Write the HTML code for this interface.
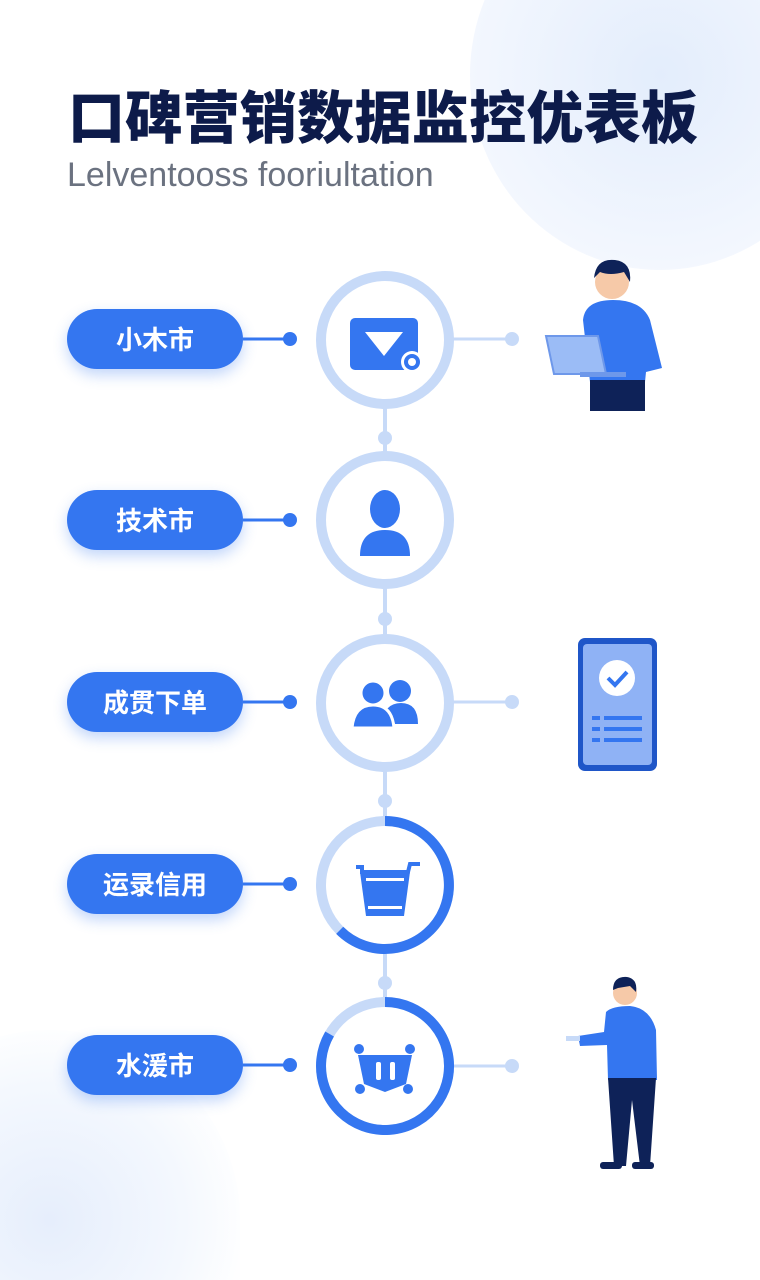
<!DOCTYPE html>
<html style="overflow:hidden;width:760px;height:1280px"><head><meta charset="utf-8"><style>
body{margin:0;width:760px;height:1280px;overflow:hidden;background:#fff;font-family:"Liberation Sans","Noto Sans CJK SC",sans-serif;position:relative}
.bg1{position:absolute;right:-90px;top:-120px;width:380px;height:390px;border-radius:50%;background:radial-gradient(circle,#e3edfc,#f3f7fe 70%,#fff)}
.bg2{position:absolute;left:-140px;top:1030px;width:380px;height:250px;border-radius:190px 190px 0 0;background:radial-gradient(circle at 50% 76%,#e6eefc,#f4f8fe 50%,#fff 75%)}
h1{position:absolute;left:68px;top:73px;margin:0;font-size:57px;font-weight:900;color:#0d1b4a;font-family:"Noto Sans CJK SC",sans-serif;white-space:nowrap;letter-spacing:0.3px}
.sub{position:absolute;left:67px;top:156px;font-size:34px;color:#6b7280;white-space:nowrap}
.pill{position:absolute;left:67px;width:176px;height:60px;border-radius:30px;background:#3476f0;color:#fff;font-size:26px;font-weight:bold;text-align:center;line-height:60px;box-shadow:0 6px 14px rgba(52,118,240,.3);font-family:"Noto Sans CJK SC",sans-serif}
</style></head><body>
<div class="bg1"></div><div class="bg2"></div>
<h1>口碑营销数据监控优表板</h1>
<div class="sub">Lelventooss fooriultation</div>
<div class="pill" style="top:309px">小木市</div>
<div class="pill" style="top:490px">技术市</div>
<div class="pill" style="top:672px">成贯下单</div>
<div class="pill" style="top:854px">运录信用</div>
<div class="pill" style="top:1035px">水湲市</div>
<svg width="760" height="1280" style="position:absolute;left:0;top:0">
<g stroke="#c7daf8" stroke-width="4">
<line x1="385" y1="400" x2="385" y2="1010"/>
</g>
<g fill="#c7daf8"><circle cx="385" cy="438" r="7"/><circle cx="385" cy="619" r="7"/><circle cx="385" cy="801" r="7"/><circle cx="385" cy="983" r="7"/></g>
<g stroke="#3476f0" stroke-width="3"><line x1="243" y1="339" x2="290" y2="339"/><line x1="243" y1="520" x2="290" y2="520"/><line x1="243" y1="702" x2="290" y2="702"/><line x1="243" y1="884" x2="290" y2="884"/><line x1="243" y1="1065" x2="290" y2="1065"/></g>
<g fill="#3476f0"><circle cx="290" cy="339" r="7"/><circle cx="290" cy="520" r="7"/><circle cx="290" cy="702" r="7"/><circle cx="290" cy="884" r="7"/><circle cx="290" cy="1065" r="7"/></g>
<g stroke="#c7daf8" stroke-width="3"><line x1="452" y1="339" x2="512" y2="339"/><line x1="452" y1="702" x2="512" y2="702"/><line x1="452" y1="1066" x2="512" y2="1066"/></g>
<g fill="#c7daf8"><circle cx="512" cy="339" r="7"/><circle cx="512" cy="702" r="7"/><circle cx="512" cy="1066" r="7"/></g>
<g fill="#fff" stroke="#c7daf8" stroke-width="10">
<circle cx="385" cy="340" r="64"/><circle cx="385" cy="520" r="64"/><circle cx="385" cy="703" r="64"/><circle cx="385" cy="885" r="64"/><circle cx="385" cy="1066" r="64"/>
</g>
<g fill="none" stroke="#3476f0" stroke-width="10">
<path d="M385 821 A64 64 0 1 1 339.7 930.3"/>
<path d="M385 1002 A64 64 0 1 1 329.6 1034"/>
</g>
<rect x="350" y="318" width="68" height="52" rx="5" fill="#3476f0"/>
<path d="M365 332 L403 332 L384 356Z" fill="#fff"/>
<circle cx="412" cy="362" r="11" fill="#fff"/><circle cx="412" cy="362" r="8" fill="#3476f0"/><circle cx="412" cy="362" r="4" fill="#fff"/>
<ellipse cx="385" cy="509" rx="15" ry="19" fill="#3476f0"/>
<path d="M360 556 Q360 530 385 530 Q410 530 410 556Z" fill="#3476f0"/>
<circle cx="400" cy="691" r="11" fill="#3476f0"/><path d="M382 724 Q384 703 401 703 Q418 703 418 724Z" fill="#3476f0"/>
<circle cx="373" cy="693" r="12" fill="#3476f0" stroke="#fff" stroke-width="3"/><path d="M352 728 Q354 705 373 705 Q392 705 394 728Z" fill="#3476f0" stroke="#fff" stroke-width="3"/>
<path d="M356 867 L362 867 L362 872 L408 872 L410 864 L420 864" fill="none" stroke="#3476f0" stroke-width="4"/>
<path d="M360 872 L410 872 L404 916 L366 916Z" fill="#3476f0"/>
<rect x="366" y="878" width="38" height="3" fill="#fff"/><rect x="368" y="906" width="34" height="3" fill="#fff"/>
<path d="M358 1055 L412 1055 L406 1084 L385 1092 L364 1084Z" fill="#3476f0"/>
<rect x="376" y="1062" width="5" height="18" rx="2" fill="#fff"/><rect x="390" y="1062" width="5" height="18" rx="2" fill="#fff"/>
<circle cx="359" cy="1049" r="5" fill="#3476f0"/><circle cx="410" cy="1049" r="5" fill="#3476f0"/><circle cx="360" cy="1089" r="5" fill="#3476f0"/><circle cx="408" cy="1089" r="5" fill="#3476f0"/>
<circle cx="612" cy="282" r="17" fill="#f6c9a8"/>
<path d="M594 278 Q596 258 615 260 Q632 262 630 282 L624 272 Q610 276 600 272Z" fill="#0e2258"/>
<path d="M583 320 Q585 300 613 300 Q642 300 650 320 L662 368 L646 372 L645 382 L590 382Z" fill="#3476f0"/>
<rect x="590" y="380" width="55" height="31" fill="#0e2258"/>
<path d="M546 336 L598 336 L606 374 L554 374Z" fill="#9bbcf6" stroke="#6e98ea" stroke-width="2"/>
<rect x="580" y="372" width="46" height="5" fill="#6e98ea"/>
<rect x="578" y="638" width="79" height="133" rx="7" fill="#1f56c8"/>
<rect x="583" y="644" width="69" height="121" rx="4" fill="#8fb2f5"/>
<circle cx="617" cy="678" r="18" fill="#fff"/><path d="M608 678 L615 685 L627 672" fill="none" stroke="#3476f0" stroke-width="4"/>
<g fill="#3476f0"><rect x="592" y="716" width="8" height="4"/><rect x="604" y="716" width="38" height="4"/><rect x="592" y="727" width="8" height="4"/><rect x="604" y="727" width="38" height="4"/><rect x="592" y="738" width="8" height="4"/><rect x="604" y="738" width="38" height="4"/></g>
<circle cx="625" cy="993" r="12" fill="#f6c9a8"/>
<path d="M613 990 Q613 976 627 977 Q638 979 636 992 L630 986 L618 988Z" fill="#0e2258"/>
<path d="M606 1012 Q612 1006 630 1006 Q650 1008 656 1030 L657 1080 L608 1080 L607 1045 L580 1046 L578 1036 L604 1032Z" fill="#3476f0"/>
<path d="M608 1078 L656 1078 L650 1166 L640 1166 L632 1100 L626 1166 L614 1166Z" fill="#0e2258"/>
<rect x="600" y="1162" width="22" height="7" rx="3" fill="#0e2258"/><rect x="632" y="1162" width="22" height="7" rx="3" fill="#0e2258"/>
<rect x="566" y="1036" width="14" height="5" fill="#c7daf8"/>
</svg>
</body></html>
